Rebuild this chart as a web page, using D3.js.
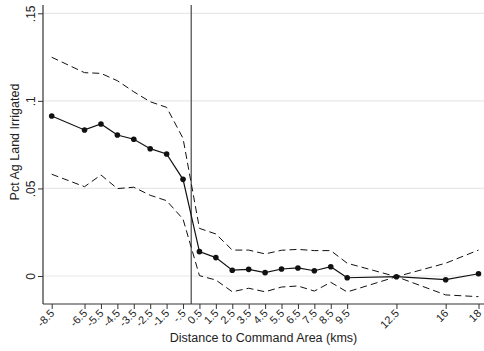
<!DOCTYPE html>
<html><head><meta charset="utf-8">
<script src="https://cdn.jsdelivr.net/npm/d3@7"></script>
<style>body{margin:0;background:#fff}svg{display:block;font-family:"Liberation Sans",Arial,Helvetica,sans-serif}</style>
</head><body><svg id="c" width="484" height="351"></svg>
<script>
const xVals = [-8.5,-6.5,-5.5,-4.5,-3.5,-2.5,-1.5,-0.5,0.5,1.5,2.5,3.5,4.5,5.5,6.5,7.5,8.5,9.5,12.5,15.5,17.5];
const xTickLabels = ["-8.5","-6.5","-5.5","-4.5","-3.5","-2.5","-1.5","-.5","0.5","1.5","2.5","3.5","4.5","5.5","6.5","7.5","8.5","9.5","12.5","16","18"];
const meanVals = [0.0914,0.0834,0.0868,0.0805,0.0781,0.0727,0.0697,0.0552,0.0139,0.0105,0.0033,0.0038,0.0019,0.0040,0.0046,0.0030,0.0053,-0.0010,-0.0004,-0.0021,0.0013];
const upperVals = [0.1249,0.1161,0.1157,0.1115,0.1052,0.0995,0.0963,0.0786,0.0272,0.0240,0.0148,0.0148,0.0126,0.0147,0.0152,0.0145,0.0145,0.0073,-0.0004,0.0073,0.0148];
const lowerVals = [0.0581,0.0510,0.0577,0.0499,0.0507,0.0461,0.0430,0.0325,0.0002,-0.0023,-0.0090,-0.0070,-0.0090,-0.0063,-0.0057,-0.0086,-0.0036,-0.0091,-0.0004,-0.0108,-0.0118];
const yTicks = [0,0.05,0.1,0.15];
const yTickLabels = ["0",".05",".1",".15"];
const cutoff = 0;

const svg = d3.select("#c");
const L = 43, R = 484, T = 5, B = 304;
const x = d3.scaleLinear().domain([-8.5,17.5]).range([51.7,478.5]);
const y = d3.scaleLinear().domain([0,0.15]).range([276,13.3]);

// gridlines
svg.append("g").selectAll("line").data(yTicks).join("line")
  .attr("x1",L).attr("x2",R).attr("y1",d=>y(d)).attr("y2",d=>y(d))
  .attr("stroke","#e8e8e8").attr("stroke-width",1.2);

// cutoff line
svg.append("line").attr("x1",x(cutoff)).attr("x2",x(cutoff)).attr("y1",T).attr("y2",B)
  .attr("stroke","#555").attr("stroke-width",1.3);

const pts = xVals.map((v,i)=>({x:v,m:meanVals[i],u:upperVals[i],l:lowerVals[i]}));
const mk = key => d3.line().x(d=>x(d.x)).y(d=>y(d[key]));
svg.append("path").datum(pts).attr("d",mk("u")).attr("fill","none").attr("stroke","#111").attr("stroke-width",1).attr("stroke-dasharray","7,4");
svg.append("path").datum(pts).attr("d",mk("l")).attr("fill","none").attr("stroke","#111").attr("stroke-width",1).attr("stroke-dasharray","7,4");
svg.append("path").datum(pts).attr("d",mk("m")).attr("fill","none").attr("stroke","#111").attr("stroke-width",1.2);
svg.append("g").selectAll("circle").data(pts).join("circle")
  .attr("cx",d=>x(d.x)).attr("cy",d=>y(d.m)).attr("r",2.8).attr("fill","#111");

// y axis
const yAxis = d3.axisLeft(y).tickValues(yTicks).tickSize(5).tickFormat((d,i)=>yTickLabels[i]);
const gy = svg.append("g").attr("transform",`translate(${L},0)`).call(yAxis);
gy.select(".domain").attr("d",`M0,${T}V${B}`).attr("stroke","#333").attr("stroke-width",1.2);
gy.selectAll(".tick line").attr("stroke","#333");
gy.selectAll(".tick text").attr("x",0).attr("dy",0)
  .attr("transform","translate(-8.5,0) rotate(-90)")
  .attr("text-anchor","middle").attr("font-size",12).attr("fill","#222").attr("font-family",null);

// x axis
const xAxis = d3.axisBottom(x).tickValues(xVals).tickSize(5).tickFormat((d,i)=>xTickLabels[i]);
const gx = svg.append("g").attr("transform",`translate(0,${B})`).call(xAxis);
gx.select(".domain").attr("d",`M${L},0H${R}`).attr("stroke","#333").attr("stroke-width",1.2);
gx.selectAll(".tick line").attr("stroke","#333");
gx.selectAll(".tick text").attr("y",0).attr("dy",0)
  .attr("transform","translate(3,10) rotate(-45)")
  .attr("text-anchor","end").attr("font-size",11).attr("fill","#222").attr("font-family",null);

// titles
svg.append("text").attr("x",(L+R)/2).attr("y",342).attr("text-anchor","middle")
  .attr("font-size",12.5).attr("fill","#222").text("Distance to Command Area (kms)");
svg.append("text").attr("transform",`translate(19,142) rotate(-90)`).attr("text-anchor","middle")
  .attr("font-size",12.5).attr("fill","#222").text("Pct Ag Land Irrigated");
</script></body></html>
